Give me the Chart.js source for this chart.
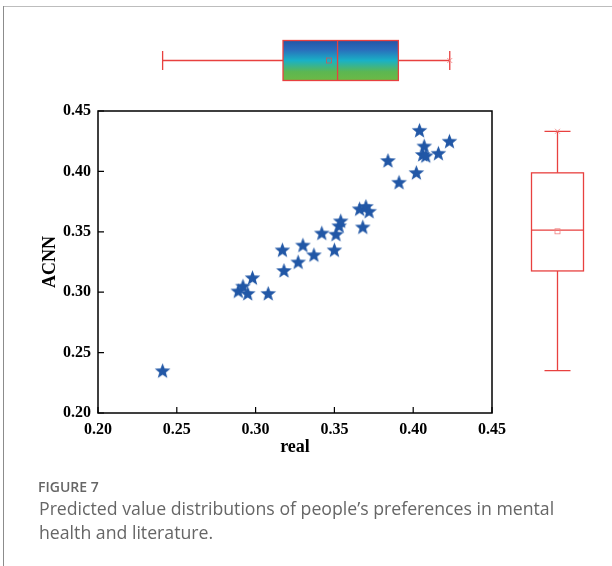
<!DOCTYPE html>
<html>
<head>
<meta charset="utf-8">
<script src="https://cdn.jsdelivr.net/npm/chart.js@4.4.1/dist/chart.umd.min.js"></script>
<style>
  html, body { margin: 0; padding: 0; background: #fff; }
  #page { position: relative; width: 612px; height: 566px; overflow: hidden; }
  #frame-top { position: absolute; left: 3px; top: 6px; width: 609px; height: 0; border-top: 1.5px solid #bdbdbd; }
  #frame-left { position: absolute; left: 3px; top: 6px; width: 0; height: 560px; border-left: 1.5px solid #8c8c8c; }
  canvas { position: absolute; left: 0; top: 0; }
  .fig-label { position: absolute; left: 38px; top: 477px; font-family: "Open Sans", sans-serif; font-weight: 600; font-size: 14px; line-height: 19px; color: #666; }
  .fig-caption { position: absolute; left: 39px; top: 495.5px; width: 530px; font-family: "Open Sans", sans-serif; font-size: 17.7px; line-height: 24px; color: #666; }
</style>
</head>
<body>
<div id="page">
  <div id="frame-top"></div>
  <div id="frame-left"></div>
  <canvas id="scatter-box-chart" width="612" height="566"></canvas>
  <div class="fig-label">FIGURE 7</div>
  <div class="fig-caption">Predicted value distributions of people’s preferences in mental health and literature.</div>
</div>
<script>
// Scatter values
const realX = [0.241, 0.289, 0.292, 0.295, 0.298, 0.308, 0.317, 0.318, 0.327, 0.330,
  0.337, 0.342, 0.350, 0.351, 0.353, 0.354, 0.366, 0.368, 0.370, 0.372,
  0.384, 0.391, 0.402, 0.404, 0.407, 0.406, 0.408, 0.416, 0.423];
const acnnY = [0.235, 0.301, 0.305, 0.299, 0.312, 0.299, 0.335, 0.318, 0.325, 0.339,
  0.331, 0.349, 0.335, 0.348, 0.355, 0.359, 0.369, 0.354, 0.371, 0.367,
  0.409, 0.391, 0.399, 0.434, 0.421, 0.414, 0.413, 0.415, 0.425];

// Box plot stats: [min, q1, median, q3, max], plus mean
const realBox = [0.241, 0.3174, 0.352, 0.3906, 0.4232];
const realMean = 0.3466;
const acnnBox = [0.235, 0.3176, 0.3514, 0.3988, 0.4332];
const acnnMean = 0.3504;

const axisTicks = [0.20, 0.25, 0.30, 0.35, 0.40, 0.45];

const STAR_COLOR = "#2157a6";
const BOX_RED = "#e8403f";
const serifBold = (size) => ({ family: "'Liberation Serif', 'Times New Roman', serif", size: size, weight: "bold" });

// Filled five-point star used as point image
function makeStar(size, color) {
  const c = document.createElement("canvas");
  c.width = size; c.height = size;
  const g = c.getContext("2d");
  const cx = size / 2, cy = size / 2 + 0.6;
  const outer = size / 2 - 0.3, inner = outer * 0.42;
  g.beginPath();
  for (let i = 0; i < 10; i++) {
    const r = i % 2 === 0 ? outer : inner;
    const a = -Math.PI / 2 + i * Math.PI / 5;
    const px = cx + r * Math.cos(a), py = cy + r * Math.sin(a);
    if (i === 0) g.moveTo(px, py); else g.lineTo(px, py);
  }
  g.closePath();
  g.fillStyle = color;
  g.fill();
  return c;
}

// Black frame around plot + inward tick marks
const framePlugin = {
  id: "frame",
  afterDraw(chart) {
    const { ctx, chartArea: a, scales } = chart;
    ctx.save();
    ctx.strokeStyle = "#000";
    ctx.lineWidth = 1.5;
    ctx.strokeRect(a.left, a.top, a.right - a.left, a.bottom - a.top);
    ctx.lineWidth = 1.2;
    ctx.beginPath();
    axisTicks.forEach(v => {
      const px = scales.x.getPixelForValue(v);
      ctx.moveTo(px, a.bottom); ctx.lineTo(px, a.bottom - 6);
      const py = scales.y.getPixelForValue(v);
      ctx.moveTo(a.left, py); ctx.lineTo(a.left + 6, py);
    });
    ctx.stroke();
    ctx.restore();
  }
};

function drawCross(ctx, x, y, r) {
  ctx.beginPath();
  ctx.moveTo(x - r, y - r); ctx.lineTo(x + r, y + r);
  ctx.moveTo(x + r, y - r); ctx.lineTo(x - r, y + r);
  ctx.stroke();
}

// Marginal box plots drawn against the chart's own scales
const boxPlugin = {
  id: "marginalBoxes",
  afterDraw(chart) {
    const { ctx, scales } = chart;
    ctx.save();
    ctx.strokeStyle = BOX_RED;
    ctx.lineWidth = 1.3;

    // top: horizontal box for real
    const xs = realBox.map(v => scales.x.getPixelForValue(v));
    const cy = 60.5, hh = 20, cap = 9.5;
    const grad = ctx.createLinearGradient(0, cy - hh, 0, cy + hh);
    grad.addColorStop(0, "#2356a6");
    grad.addColorStop(0.22, "#2a6bbb");
    grad.addColorStop(0.5, "#19b1c6");
    grad.addColorStop(0.78, "#5cb752");
    grad.addColorStop(1, "#6cb944");
    ctx.fillStyle = grad;
    ctx.fillRect(xs[1], cy - hh, xs[3] - xs[1], 2 * hh);
    ctx.strokeRect(xs[1], cy - hh, xs[3] - xs[1], 2 * hh);
    ctx.beginPath();
    ctx.moveTo(xs[0], cy); ctx.lineTo(xs[1], cy);
    ctx.moveTo(xs[3], cy); ctx.lineTo(xs[4], cy);
    ctx.moveTo(xs[0], cy - cap); ctx.lineTo(xs[0], cy + cap);
    ctx.moveTo(xs[4], cy - cap); ctx.lineTo(xs[4], cy + cap);
    ctx.moveTo(xs[2], cy - hh); ctx.lineTo(xs[2], cy + hh);
    ctx.stroke();
    const mx = scales.x.getPixelForValue(realMean);
    ctx.lineWidth = 0.8;
    ctx.strokeStyle = "#c85a5a";
    ctx.strokeRect(mx - 2.5, cy - 2.5, 5, 5);
    ctx.strokeStyle = "#f08080";
    drawCross(ctx, xs[4], cy, 2.5);

    // right: vertical box for ACNN
    ctx.strokeStyle = BOX_RED;
    ctx.lineWidth = 1.3;
    const ys = acnnBox.map(v => scales.y.getPixelForValue(v));
    const cx = 557.5, hw = 26, capw = 13;
    ctx.strokeRect(cx - hw, ys[3], 2 * hw, ys[1] - ys[3]);
    ctx.beginPath();
    ctx.moveTo(cx, ys[0]); ctx.lineTo(cx, ys[1]);
    ctx.moveTo(cx, ys[3]); ctx.lineTo(cx, ys[4]);
    ctx.moveTo(cx - capw, ys[0]); ctx.lineTo(cx + capw, ys[0]);
    ctx.moveTo(cx - capw, ys[4]); ctx.lineTo(cx + capw, ys[4]);
    ctx.moveTo(cx - hw, ys[2]); ctx.lineTo(cx + hw, ys[2]);
    ctx.stroke();
    const my = scales.y.getPixelForValue(acnnMean);
    ctx.lineWidth = 0.8;
    ctx.strokeStyle = "#f08080";
    ctx.strokeRect(cx - 2.5, my - 2.5, 5, 5);
    drawCross(ctx, cx, ys[4], 2.5);
    ctx.restore();
  }
};

const starImg = makeStar(17, STAR_COLOR);
const points = realX.map((x, i) => ({ x: x, y: acnnY[i] }));

new Chart(document.getElementById("scatter-box-chart").getContext("2d"), {
  type: "scatter",
  data: {
    datasets: [{
      data: points,
      pointStyle: starImg,
      pointRadius: 8,
      pointHoverRadius: 8
    }]
  },
  options: {
    responsive: false,
    animation: false,
    events: [],
    layout: { padding: { top: 111, right: 120, bottom: 108, left: 40 } },
    plugins: { legend: { display: false }, tooltip: { enabled: false } },
    scales: {
      x: {
        type: "linear",
        min: 0.20, max: 0.45,
        afterBuildTicks: s => { s.ticks = axisTicks.map(v => ({ value: v })); },
        afterFit: s => { s.height = 45; },
        ticks: { callback: v => v.toFixed(2), color: "#000", font: serifBold(16), padding: 7, maxRotation: 0 },
        grid: { display: false, drawTicks: false },
        border: { display: false },
        title: { display: true, text: "real", color: "#000", font: serifBold(18), padding: 0 }
      },
      y: {
        type: "linear",
        min: 0.20, max: 0.45,
        afterBuildTicks: s => { s.ticks = axisTicks.map(v => ({ value: v })); },
        afterFit: s => { s.width = 58; },
        ticks: { callback: v => v.toFixed(2), color: "#000", font: serifBold(16), padding: 7 },
        grid: { display: false, drawTicks: false },
        border: { display: false },
        title: { display: true, text: "ACNN", color: "#000", font: serifBold(18), padding: 0 }
      }
    }
  },
  plugins: [framePlugin, boxPlugin]
});
</script>
</body>
</html>
